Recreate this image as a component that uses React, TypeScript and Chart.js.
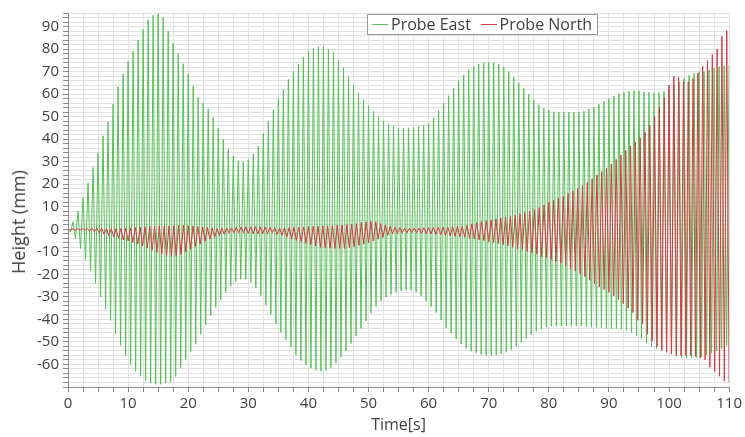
import React, { useEffect, useRef } from 'react';
import { Chart, registerables } from 'chart.js';

Chart.register(...registerables);

// Axis ranges / ticks
const X_MIN = 0;
const X_MAX = 110;
const X_STEP = 2.5;
const Y_MIN = -70;
const Y_MAX = 96;
const Y_STEP = 2;

// Probe East: one oscillation every GREEN_PERIOD seconds; crest and trough heights (mm) read per cycle
const GREEN_PERIOD = 110 / 132;
const greenCrests = [
  0, 3.3, 8, 14, 20.6, 27.4, 34, 41.5, 47.7, 55.5, 63.3, 69,
  74.7, 79, 84, 88.6, 93, 95, 95.6, 94, 88, 82.5, 78, 73.5,
  69, 63.5, 58.5, 56, 53.5, 49.5, 45, 40, 35.5, 32.5, 30.5, 30,
  31, 33.5, 37, 42.5, 48, 53, 58, 62, 66.5, 70, 73.3, 76.5,
  79, 80.3, 81, 81, 80, 78.5, 75, 71.7, 67.7, 64, 60.7, 57.5,
  55, 52.5, 50, 48, 46.7, 46, 45, 45, 45, 45.2, 45.7, 46.2,
  47, 49.5, 52.7, 56, 59.3, 62.7, 66, 68.5, 70.7, 72.3, 73.3, 74,
  74, 74, 73.3, 72, 70, 67.5, 65, 62.5, 60, 57.5, 55.3, 53.8,
  53, 52.2, 52, 52, 52, 52, 52, 52.4, 53.2, 54.2, 55.5, 56.8,
  58, 59.2, 60.2, 60.8, 61.2, 61.5, 61.5, 61, 60.7, 60.5, 60.7, 61.2,
  62, 63.7, 65.3, 67, 68.3, 69.2, 70, 70, 70.7, 71.5, 72.2, 72.6,
  73,
];
const greenTroughs = [
  -1.2, -4.2, -8.5, -13.5, -18.5, -24, -30, -35.5, -40.5, -46.5, -51.5, -56,
  -60, -63, -65.2, -67.3, -68.3, -68.8, -68.8, -68.4, -67.8, -65.3, -61.3, -57.7,
  -54.3, -51, -46.6, -42.4, -38.3, -34.7, -31.3, -28, -25.3, -23.2, -22.2, -22.2,
  -23.5, -26, -29.4, -33.6, -37.8, -42, -45.7, -49, -52.3, -55.7, -58.3, -60.2,
  -61.6, -62.6, -63, -62.6, -61.4, -59.3, -56.8, -54, -50.7, -47.3, -44, -40.7,
  -37.3, -34.2, -31.8, -30.1, -28.9, -27.9, -27.3, -27, -27.1, -27.9, -29.5, -31.7,
  -34.3, -37, -40.3, -43.7, -46.2, -48.7, -51, -52.9, -54.1, -54.9, -55.7, -56,
  -56, -55.9, -55.4, -54.6, -53.4, -51.8, -50.2, -48.5, -46.8, -45.2, -44.3, -43.4,
  -43, -43, -43, -43, -43, -43, -43, -43.1, -43.5, -43.5, -43.8, -44,
  -44, -44.1, -44.5, -45, -45.8, -47.2, -48.8, -50.5, -52.2, -53, -53.8, -54.6,
  -55.4, -56.3, -57, -57, -57, -57, -56.6, -55.8, -55, -54, -53, -51.5,
];

// Probe North: one oscillation every RED_PERIOD seconds; crest and trough heights (mm) read per cycle
const RED_PERIOD = 0.8;
const redCrests = [
  0.3, 0.3, 0.3, 0.4, 0.4, 0.5, 0.5, 0.5, 0.4, 0.3,
  0.3, 0.4, 0.5, 0.6, 0.8, 1, 1.1, 1.3, 1.4, 1.5,
  1.5, 1.5, 1.6, 1.7, 1.8, 1.6, 1.5, 1.3, 1, 0.8,
  0.5, 0.3, 0.4, 0.5, 0.6, 0.8, 1, 1.1, 1.1, 1.2,
  1.1, 1, 0.8, 0.6, 0.5, 0.6, 0.8, 0.9, 1, 1.1,
  1.2, 1.3, 1.4, 1.5, 1.5, 1.7, 1.8, 1.9, 2.1, 2.3,
  2.5, 3, 3.3, 3.5, 3.3, 2.5, 1.9, 1.3, 0.9, 0.7,
  0.5, 0.5, 0.5, 0.6, 0.7, 0.8, 0.9, 0.9, 1, 1,
  1.2, 1.3, 1.4, 1.8, 2.4, 3, 3.4, 3.8, 4.2, 4.6,
  5, 5.4, 5.8, 6.3, 6.9, 7.5, 8.1, 8.7, 9.6, 10.8,
  12, 12.8, 13.6, 14.6, 15.8, 17, 18.2, 19.4, 20.8, 22.4,
  24, 25.6, 27.2, 29, 31, 33, 35, 37, 38.8, 40.6,
  43, 46.2, 50, 54, 58.4, 64, 68, 67.5, 65.6, 65.4,
  67, 69.4, 72.4, 74.9, 77.6, 80, 85.6, 88.2,
];
const redTroughs = [
  -0.3, -0.4, -0.4, -0.5, -0.7, -1.1, -1.6, -2.2, -2.8, -3.4,
  -4, -4.7, -5.2, -5.8, -6.6, -7.4, -8.3, -9.3, -10.3, -11,
  -11.6, -12, -12, -11.2, -10.1, -8.9, -7.7, -6.5, -5.3, -4.4,
  -3.6, -2.8, -2.2, -1.6, -1.5, -1.5, -1.6, -1.8, -2, -2,
  -2, -1.9, -1.5, -2.3, -2.7, -3.4, -4.2, -5, -5.6, -6.2,
  -6.8, -7.4, -8, -8.2, -8.4, -8.5, -8.5, -8.5, -8.1, -7.7,
  -7.2, -6.6, -6, -5.2, -4.4, -3.6, -2.8, -2, -1.8, -1.6,
  -1.5, -1.5, -1.5, -1.7, -1.9, -2.1, -2.3, -2.5, -2.7, -2.9,
  -3.1, -3.3, -3.5, -4, -4.3, -4.7, -5.1, -5.5, -5.9, -6.3,
  -6.8, -7.4, -8, -8.6, -9.2, -9.8, -10.4, -11, -12.2, -12.6,
  -13.4, -14.2, -15, -16.2, -17.4, -18.6, -19.8, -21, -22.6, -24.2,
  -25.6, -26.8, -28, -29.6, -31.2, -33, -35, -37, -40.4, -42,
  -46.6, -49.6, -52, -53.6, -54.6, -55.4, -56, -56, -56, -56,
  -56.4, -57.2, -58, -61.2, -63.2, -65.2, -67.4, -68,
];

const GREEN = 'rgb(86,192,86)';
const RED = 'rgb(214,58,68)';

function zigzag(crests: number[], troughs: number[], period: number) {
  const pts: { x: number; y: number }[] = [];
  const n = Math.max(crests.length, troughs.length);
  for (let i = 0; i < n; i++) {
    if (i < crests.length) pts.push({ x: i * period, y: crests[i] });
    if (i < troughs.length) pts.push({ x: (i + 0.5) * period, y: troughs[i] });
  }
  return pts.filter((p) => p.x <= X_MAX + 1e-9);
}

const FONT = "'Open Sans', 'DejaVu Sans', sans-serif";

export default function App() {
  const canvasRef = useRef<HTMLCanvasElement | null>(null);

  useEffect(() => {
    let chart: Chart | null = null;
    let cancelled = false;
    const build = () => {
      if (cancelled || !canvasRef.current) return;
      chart = new Chart(canvasRef.current, {
        type: 'line',
        data: {
          datasets: [
            {
              label: 'Probe East',
              data: zigzag(greenCrests, greenTroughs, GREEN_PERIOD),
              borderColor: GREEN,
              backgroundColor: GREEN,
              borderWidth: 1,
              pointRadius: 0,
              tension: 0,
              order: 1,
            },
            {
              label: 'Probe North',
              data: zigzag(redCrests, redTroughs, RED_PERIOD),
              borderColor: RED,
              backgroundColor: RED,
              borderWidth: 1,
              pointRadius: 0,
              tension: 0,
              order: 0,
            },
          ],
        },
        options: {
          responsive: false,
          animation: false,
          devicePixelRatio: 1,
          parsing: false,
          normalized: true,
          layout: { padding: { top: 6, right: 15, left: 0, bottom: 0 } },
          plugins: {
            legend: { display: false },
            tooltip: { enabled: false },
          },
          scales: {
            x: {
              type: 'linear',
              min: X_MIN,
              max: X_MAX,
              afterFit: (s: any) => {
                s.height = 50;
              },
              ticks: {
                stepSize: X_STEP,
                autoSkip: false,
                maxRotation: 0,
                padding: 3,
                color: '#404040',
                font: { family: FONT, size: 15 },
                callback: (v: any) => (Number(v) % 10 === 0 ? String(v) : ''),
              },
              grid: { color: '#e2e2e2', tickColor: '#8a8a8a', tickLength: 5, lineWidth: 1 },
              border: { color: '#8a8a8a', width: 1 },
              title: {
                display: true,
                text: 'Time[s]',
                color: '#404040',
                font: { family: FONT, size: 16 },
                padding: { top: 0, bottom: 2 },
              },
            },
            y: {
              type: 'linear',
              min: Y_MIN,
              max: Y_MAX,
              afterFit: (s: any) => {
                s.width = 68;
              },
              ticks: {
                stepSize: Y_STEP,
                autoSkip: false,
                padding: 4,
                color: '#404040',
                font: { family: FONT, size: 15 },
                callback: (v: any) => {
                  const n = Number(v);
                  return n % 10 === 0 && n >= -60 && n <= 90 ? String(n) : '';
                },
              },
              grid: { color: '#e2e2e2', tickColor: '#8a8a8a', tickLength: 5, lineWidth: 1 },
              border: { color: '#8a8a8a', width: 1 },
              title: { display: false },
            },
          },
        },
      });
    };
    const fontsReady = (document as any).fonts
      ? Promise.all([
          (document as any).fonts.load("15px 'Open Sans'"),
          (document as any).fonts.load("16px 'Open Sans'"),
        ]).catch(() => null)
      : Promise.resolve(null);
    fontsReady.then(build);
    return () => {
      cancelled = true;
      if (chart) chart.destroy();
    };
  }, []);

  const legendItem = (color: string, text: string) => (
    <span style={{ display: 'flex', alignItems: 'center' }}>
      <span style={{ display: 'inline-block', width: 16, height: 1, background: color, marginRight: 3 }} />
      <span>{text}</span>
    </span>
  );

  return (
    <div style={{ position: 'fixed', left: 0, top: 0, width: 745, height: 437, background: '#fff' }}>
      <canvas ref={canvasRef} width={745} height={437} style={{ display: 'block' }} />
      <div
        style={{
          position: 'absolute',
          left: 18,
          top: 222,
          transform: 'translate(-50%, -50%) rotate(-90deg)',
          fontFamily: FONT,
          fontSize: 18,
          color: '#404040',
          whiteSpace: 'nowrap',
          lineHeight: '20px',
        }}
      >
        Height (mm)
      </div>
      <div
        style={{
          position: 'absolute',
          left: 367,
          top: 14,
          width: 231,
          height: 21,
          boxSizing: 'border-box',
          border: '1px solid #9a9a9a',
          background: '#fff',
          display: 'flex',
          alignItems: 'center',
          justifyContent: 'space-between',
          padding: '0 5px 0 4px',
          fontFamily: FONT,
          fontSize: 16,
          color: '#404040',
          lineHeight: '19px',
          whiteSpace: 'nowrap',
        }}
      >
        {legendItem(GREEN, 'Probe East')}
        {legendItem(RED, 'Probe North')}
      </div>
    </div>
  );
}
